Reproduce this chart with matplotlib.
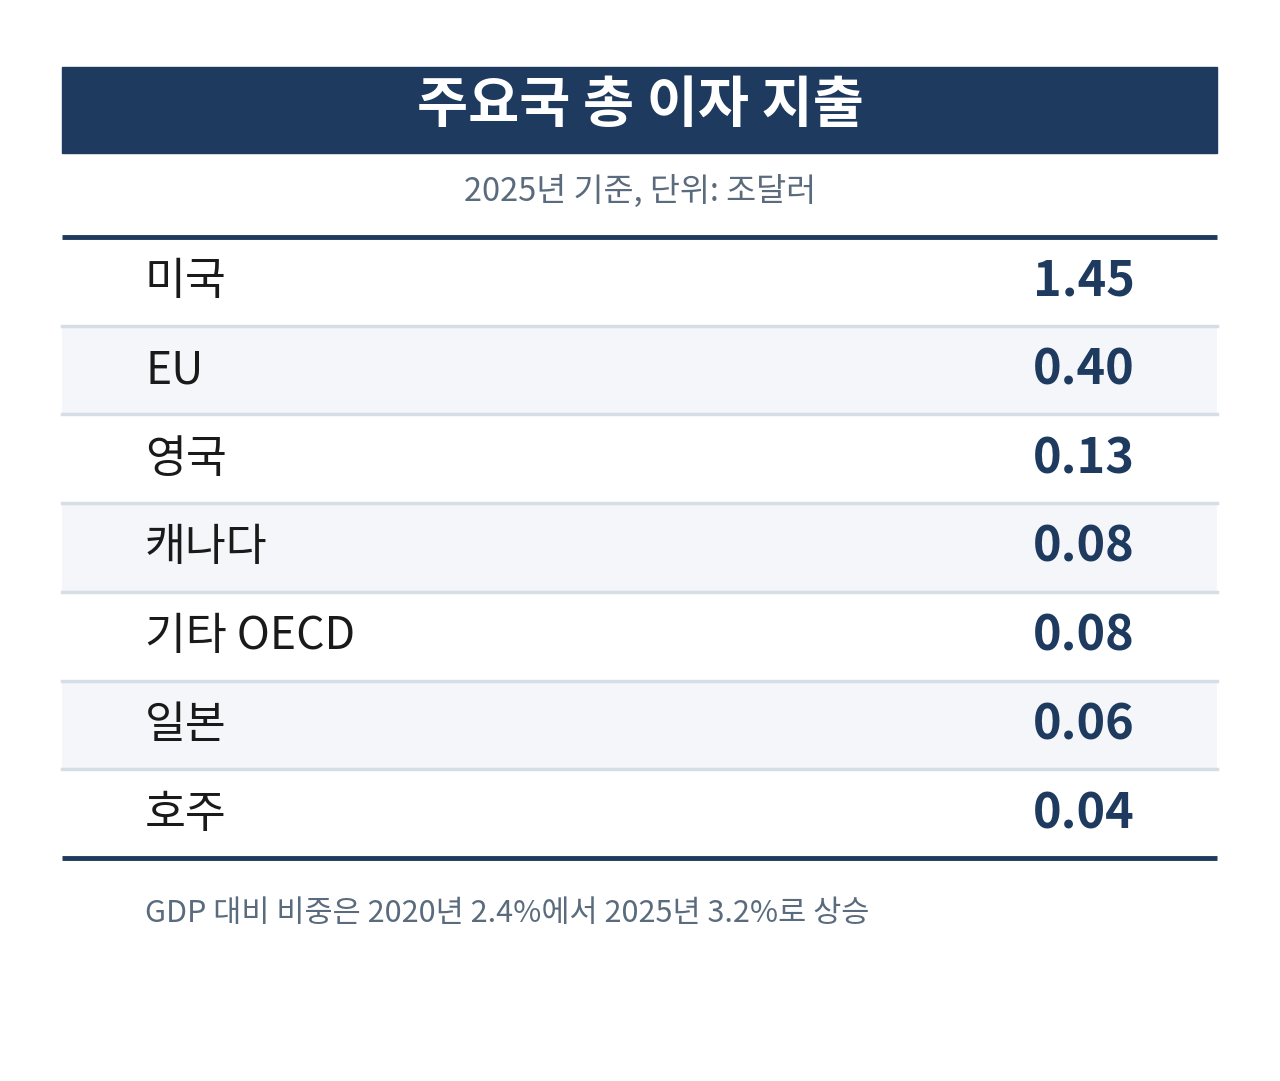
import matplotlib.pyplot as plt
from matplotlib.patches import Rectangle

plt.rcParams['font.family'] = ['Noto Sans CJK KR', 'DejaVu Sans']

title = "주요국 총 이자 지출"
subtitle = "2025년 기준, 단위: 조달러"
countries = ["미국", "EU", "영국", "캐나다", "기타 OECD", "일본", "호주"]
values = [1.45, 0.40, 0.13, 0.08, 0.08, 0.06, 0.04]
note = "GDP 대비 비중은 2020년 2.4%에서 2025년 3.2%로 상승"

navy = "#1e3a5f"
fig = plt.figure(figsize=(12.8, 10.81), dpi=100)
ax = fig.add_axes([0, 0, 1, 1])
ax.set_xlim(0, 1280)
ax.set_ylim(1081, 0)
ax.axis("off")

left, right = 62, 1217
ax.add_patch(Rectangle((left, 67), right - left, 86, color=navy))
ax.text(640, 106, title, color="white", fontsize=40, fontweight="bold",
        ha="center", va="center")
ax.text(640, 191, subtitle, color="#5a6b7d", fontsize=23.5, ha="center", va="center")

top, row_h = 237, 88.7
for i, (c, v) in enumerate(zip(countries, values)):
    y0 = top + i * row_h
    if i % 2 == 1:
        ax.add_patch(Rectangle((left, y0), right - left, row_h, color="#f4f6f9", lw=0))
    if i > 0:
        ax.plot([left, right], [y0, y0], color="#d5dde6", lw=2.5)
    yc = y0 + row_h / 2
    ax.text(145, yc, c, color="#1a1a1a", fontsize=32, ha="left", va="center")
    ax.text(1135, yc, f"{v:.2f}", color=navy, fontsize=35, fontweight="bold",
            ha="right", va="center")

ax.plot([left, right], [top, top], color=navy, lw=3.5, solid_capstyle="butt")
bottom = top + len(countries) * row_h
ax.plot([left, right], [bottom, bottom], color=navy, lw=3.5, solid_capstyle="butt")

ax.text(145, 913, note, color="#5a6b7d", fontsize=22, ha="left", va="center")

fig.savefig("out.png", dpi=100)
